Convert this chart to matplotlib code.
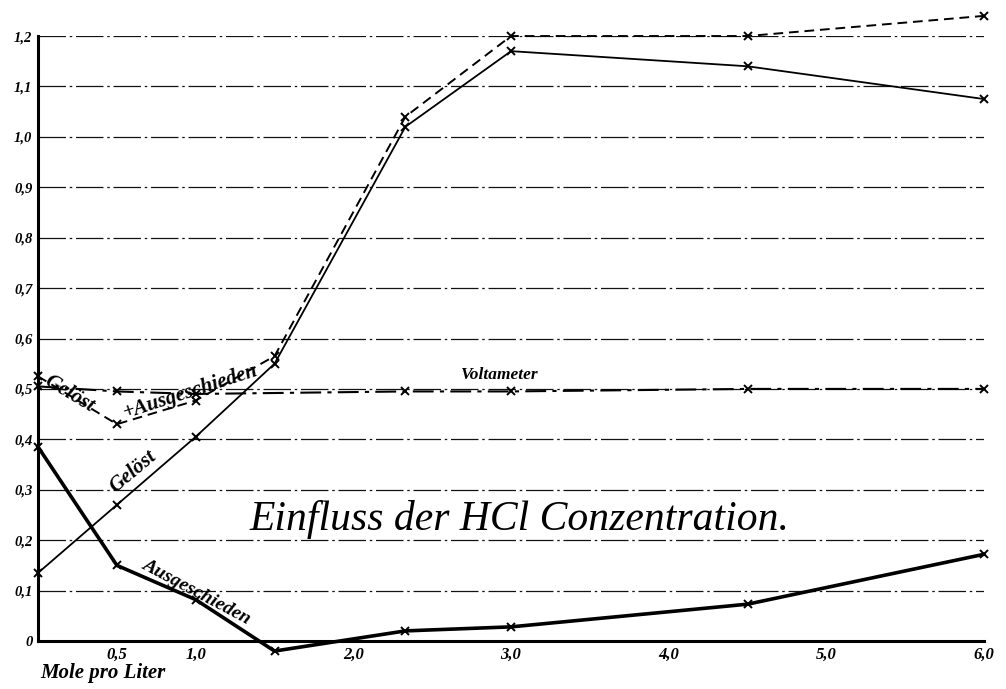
import numpy as np
import matplotlib
matplotlib.use('Agg')
import matplotlib.pyplot as plt

# Daten (Mole pro Liter HCl)
konz = [0, 0.5, 1.0, 1.5, 2.33, 3.0, 4.5, 6.0]
geloest = [0.135, 0.27, 0.405, 0.55, 1.02, 1.17, 1.14, 1.075]
ausgeschieden = [0.385, 0.15, 0.082, -0.02, 0.02, 0.028, 0.073, 0.172]
summe = [0.525, 0.43, 0.477, 0.565, 1.04, 1.20, 1.20, 1.24]
volt_x = [0, 0.5, 1.0, 2.33, 3.0, 4.5, 6.0]
voltameter = [0.505, 0.495, 0.49, 0.495, 0.495, 0.5, 0.5]

y_ticks = [0, 0.1, 0.2, 0.3, 0.4, 0.5, 0.6, 0.7, 0.8, 0.9, 1.0, 1.1, 1.2]
y_labels = ['0', '0,1', '0,2', '0,3', '0,4', '0,5', '0,6', '0,7', '0,8', '0,9', '1,0', '1,1', '1,2']
x_ticks = [0.5, 1.0, 2.0, 3.0, 4.0, 5.0, 6.0]
x_labels = ['0,5', '1,0', '2,0', '3,0', '4,0', '5,0', '6,0']
x_grid = [1, 2, 3, 4, 5, 6]

serif = 'Liberation Serif'

fig = plt.figure(figsize=(10.06, 6.89), dpi=100)
ax = fig.add_axes([0.0378, 0.0697, 0.9404, 0.878])
ax.set_xlim(0, 6)
ax.set_ylim(0, 1.2)

# Gitter
ax.set_yticks(y_ticks)
ax.set_yticklabels(y_labels, fontfamily=serif, fontstyle='italic',
                   fontweight='bold', fontsize=10.5)
ax.set_xticks(x_ticks)
ax.set_xticklabels(x_labels, fontfamily=serif, fontstyle='italic',
                   fontweight='bold', fontsize=12)
ax.set_xticks(x_grid, minor=True)
ax.tick_params(length=0, pad=4)
ax.tick_params(axis='x', which='minor', length=0)
gls = (0, (22, 3, 2, 3))
ax.grid(axis='y', which='major', color='#111', lw=0.9, ls=gls)
ax.grid(axis='x', which='minor', color='#111', lw=0.9, ls=gls)
ax.grid(axis='x', which='major', visible=False)
for s in ['top', 'right']:
    ax.spines[s].set_visible(False)
for s in ['left', 'bottom']:
    ax.spines[s].set_linewidth(2.2)
    ax.spines[s].set_color('black')

mk = dict(marker='x', ms=6, mew=1.4, color='black', clip_on=False)
ax.plot(konz, geloest, lw=1.3, **mk)
ax.plot(konz, ausgeschieden, lw=2.6, **mk)
ax.plot(konz, summe, lw=1.4, ls=(0, (5, 3)), **mk)
ax.plot(volt_x, voltameter, lw=1.5, ls=(0, (10, 3, 2, 3)), **mk)

# Beschriftungen
tk = dict(fontfamily=serif, fontstyle='italic', fontweight='bold', color='black')
ax.text(0.6, 0.335, 'Gelöst', rotation=40, fontsize=15, ha='center', va='center', **tk)
ax.text(0.2, 0.49, 'Gelöst', rotation=-31, fontsize=15, ha='center', va='center', **tk)
ax.text(0.97, 0.495, '+Ausgeschieden', rotation=18, fontsize=15, ha='center', va='center', **tk)
ax.text(1.0, 0.097, 'Ausgeschieden', rotation=-28, fontsize=14, ha='center', va='center', **tk)
ax.text(2.68, 0.512, 'Voltameter', fontsize=12.5, ha='left', va='bottom', **tk)
ax.text(3.05, 0.24, 'Einfluss der HCl Conzentration.', fontsize=30,
        ha='center', va='center', fontfamily=serif, fontstyle='italic')
fig.text(0.04, 0.008, 'Mole pro Liter', fontsize=15, ha='left', va='bottom', **tk)

fig.savefig('out.png', dpi=100)
